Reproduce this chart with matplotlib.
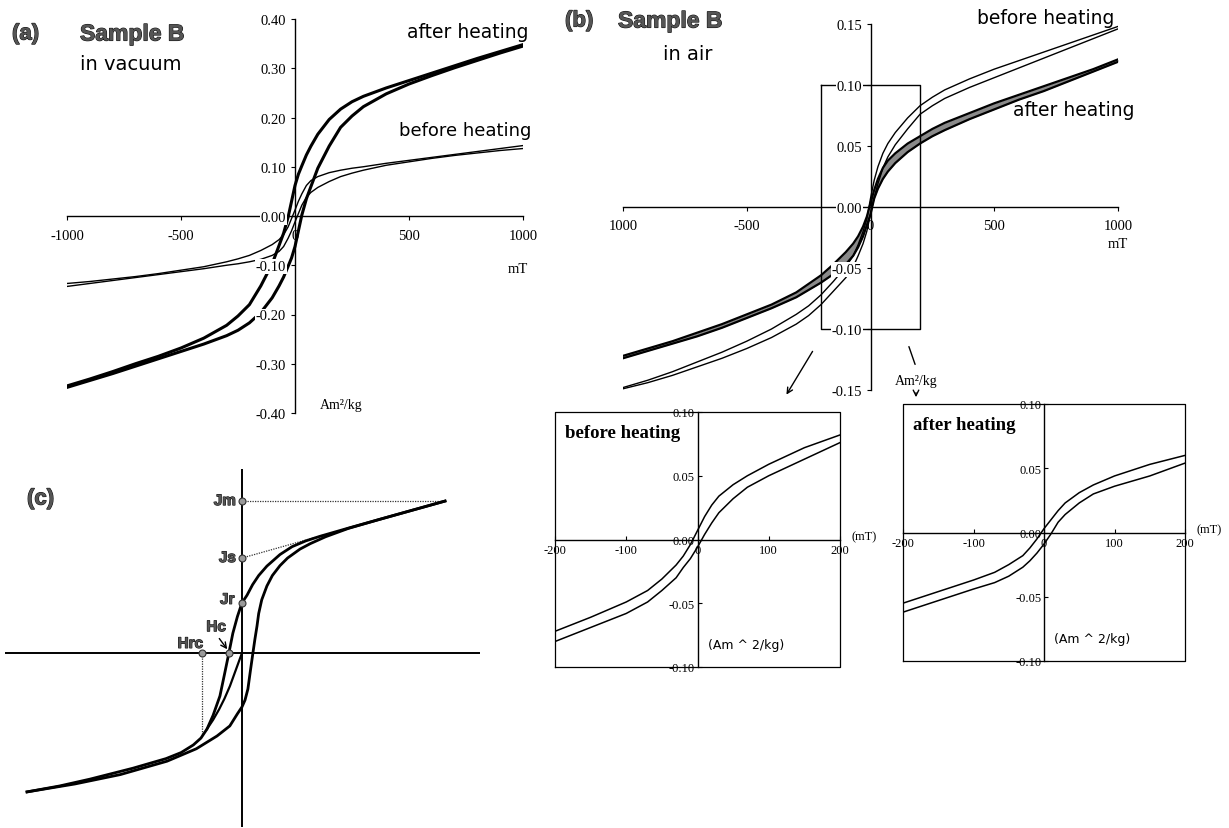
import matplotlib
matplotlib.use("Agg")
import matplotlib.pyplot as plt
import matplotlib.patheffects as pe

W, H = 1229, 829
SERIF = "Liberation Serif"
SANS = "DejaVu Sans"

# applied field (mT) for the full +/-1000 mT loops
FIELD = [-1000, -900, -800, -700, -600, -500, -400, -300, -250, -200, -150, -100, -70, -50, -30, -15,
         0, 15, 30, 50, 70, 100, 150, 200, 250, 300, 400, 500, 600, 700, 800, 900, 1000]

# (a) sample B heated in vacuum, magnetization in Am^2/kg
A_AFTER_DESC = [-0.345, -0.331, -0.316, -0.300, -0.285, -0.268, -0.248, -0.222, -0.203, -0.180, -0.142,
                -0.097, -0.060, -0.035, -0.002, 0.030, 0.062, 0.085, 0.102, 0.124, 0.142, 0.166, 0.196,
                0.217, 0.232, 0.243, 0.260, 0.275, 0.290, 0.305, 0.320, 0.334, 0.348]
A_AFTER_ASC = [-0.348, -0.334, -0.320, -0.305, -0.290, -0.275, -0.260, -0.243, -0.232, -0.217, -0.196,
               -0.166, -0.142, -0.124, -0.102, -0.085, -0.062, -0.030, 0.002, 0.035, 0.060, 0.097, 0.142,
               0.180, 0.203, 0.222, 0.248, 0.268, 0.285, 0.301, 0.316, 0.331, 0.345]
A_BEFORE_DESC = [-0.137, -0.133, -0.128, -0.123, -0.117, -0.110, -0.103, -0.093, -0.087, -0.080, -0.070,
                 -0.058, -0.048, -0.038, -0.022, -0.005, 0.012, 0.030, 0.045, 0.062, 0.072, 0.080, 0.088,
                 0.093, 0.097, 0.100, 0.107, 0.113, 0.119, 0.125, 0.131, 0.137, 0.143]
A_BEFORE_ASC = [-0.143, -0.137, -0.131, -0.125, -0.119, -0.113, -0.107, -0.100, -0.097, -0.093, -0.088,
                -0.080, -0.072, -0.062, -0.045, -0.030, -0.012, 0.005, 0.022, 0.038, 0.048, 0.058, 0.070,
                0.080, 0.087, 0.093, 0.103, 0.110, 0.117, 0.123, 0.128, 0.133, 0.137]

# (b) sample B heated in air
B_BEFORE_DESC = [-0.148, -0.142, -0.135, -0.127, -0.119, -0.110, -0.100, -0.088, -0.081, -0.072, -0.061,
                 -0.049, -0.040, -0.031, -0.020, -0.010, 0.007, 0.022, 0.033, 0.044, 0.052, 0.061, 0.073,
                 0.083, 0.090, 0.096, 0.105, 0.113, 0.120, 0.127, 0.134, 0.141, 0.148]
B_BEFORE_ASC = [-0.149, -0.144, -0.138, -0.131, -0.124, -0.116, -0.107, -0.096, -0.089, -0.080, -0.069,
                -0.058, -0.049, -0.040, -0.030, -0.020, -0.006, 0.008, 0.019, 0.032, 0.041, 0.051, 0.064,
                0.076, 0.083, 0.089, 0.098, 0.106, 0.114, 0.122, 0.130, 0.138, 0.146]
B_AFTER_DESC = [-0.122, -0.116, -0.110, -0.103, -0.096, -0.088, -0.080, -0.070, -0.063, -0.056, -0.047,
                -0.037, -0.030, -0.024, -0.016, -0.008, 0.003, 0.014, 0.023, 0.032, 0.038, 0.044, 0.052,
                0.058, 0.064, 0.069, 0.077, 0.085, 0.092, 0.099, 0.106, 0.113, 0.121]
B_AFTER_ASC = [-0.124, -0.118, -0.112, -0.106, -0.099, -0.091, -0.083, -0.074, -0.068, -0.062, -0.055,
               -0.047, -0.040, -0.033, -0.024, -0.015, -0.006, 0.007, 0.015, 0.023, 0.029, 0.036, 0.045,
               0.052, 0.058, 0.063, 0.072, 0.080, 0.088, 0.095, 0.103, 0.111, 0.119]
BOX_FIELD = 200
BOX_J = 0.10

# enlarged +/-200 mT loops
FIELD_IN = [-200, -150, -100, -70, -50, -30, -20, -10, 0, 10, 20, 30, 50, 70, 100, 150, 200]
IN_BEFORE_UP = [-0.072, -0.061, -0.049, -0.040, -0.031, -0.020, -0.013, -0.004, 0.007,
                0.018, 0.027, 0.034, 0.043, 0.050, 0.059, 0.072, 0.082]
IN_BEFORE_LOW = [-0.080, -0.069, -0.058, -0.049, -0.040, -0.030, -0.022, -0.015, -0.006,
                 0.004, 0.013, 0.021, 0.032, 0.041, 0.050, 0.063, 0.076]
IN_AFTER_UP = [-0.055, -0.046, -0.037, -0.031, -0.025, -0.018, -0.012, -0.005, 0.003,
               0.010, 0.017, 0.023, 0.031, 0.037, 0.044, 0.053, 0.060]
IN_AFTER_LOW = [-0.062, -0.053, -0.044, -0.039, -0.034, -0.027, -0.022, -0.016, -0.009,
                -0.001, 0.008, 0.014, 0.023, 0.030, 0.036, 0.044, 0.054]

# (c) schematic loop, arbitrary units
C_UP_H = [1.336, 1.1, 0.90, 0.70, 0.513, 0.42, 0.33, 0.25, 0.164, 0.11, 0.07, 0.033, 0.0, -0.03, -0.06,
          -0.086, -0.115, -0.145, -0.19, -0.23, -0.27, -0.32, -0.40, -0.50, -0.717, -1.0, -1.2, -1.414]
C_UP_J = [1.0, 0.934, 0.878, 0.822, 0.768, 0.738, 0.700, 0.648, 0.572, 0.51, 0.45, 0.38, 0.33, 0.24, 0.13,
          0.0, -0.14, -0.283, -0.41, -0.50, -0.56, -0.605, -0.655, -0.695, -0.758, -0.83, -0.875, -0.914]
C_LOW_H = [1.336, 1.1, 0.90, 0.70, 0.55, 0.45, 0.382, 0.30, 0.25, 0.20, 0.164, 0.13, 0.11, 0.099, 0.085,
           0.072, 0.055, 0.039, 0.02, 0.0, -0.03, -0.08, -0.164, -0.30, -0.493, -0.80, -1.1, -1.414]
C_LOW_J = [1.0, 0.934, 0.878, 0.820, 0.765, 0.72, 0.684, 0.625, 0.575, 0.51, 0.441, 0.35, 0.26, 0.178, 0.09,
           0.0, -0.12, -0.237, -0.31, -0.355, -0.40, -0.48, -0.546, -0.63, -0.712, -0.80, -0.862, -0.914]
C_MID_H = [0.0, -0.04, -0.079, -0.115, -0.15, -0.19, -0.23]
C_MID_J = [0.0, -0.11, -0.217, -0.30, -0.37, -0.44, -0.50]
JM, JS, JR = 1.0, 0.625, 0.33
HC, HRC = -0.086, -0.263
HRC_J = -0.54
JS_TANGENT_H = 0.55
JS_TANGENT_J = 0.78

plt.rcParams["font.family"] = SERIF
fig = plt.figure(figsize=(W / 100, H / 100), dpi=100)


def place(x0, y0, x1, y1):
    """Axes from a pixel box measured from the top-left corner."""
    return fig.add_axes([x0 / W, 1 - y1 / H, (x1 - x0) / W, (y1 - y0) / H])


def label(x, y, s, **kw):
    kw.setdefault("ha", "center")
    kw.setdefault("va", "center")
    fig.text(x / W, 1 - y / H, s, **kw)


def heading(x, y, s, size):
    label(x, y, s, fontsize=size, family="Liberation Sans", fontweight="bold", ha="left",
          color="#555555", path_effects=[pe.withStroke(linewidth=0.8, foreground="#111111")])


def cross_axes(ax, xlim, ylim, xticks, xlabels, yticks, fs, white, tdir, tlen, xpad, ypad):
    ax.set_xlim(*xlim)
    ax.set_ylim(*ylim)
    ax.patch.set_visible(False)
    ax.set_axisbelow(False)
    for side in ("top", "right"):
        ax.spines[side].set_visible(False)
    for side in ("left", "bottom"):
        ax.spines[side].set_position(("data", 0))
        ax.spines[side].set_linewidth(1.0)
    ax.set_xticks(xticks)
    ax.set_xticklabels(xlabels, fontsize=fs, family=SERIF)
    ax.set_yticks(yticks)
    bbox = dict(fc="white", ec="none", pad=0.6) if white else None
    ax.set_yticklabels(["{:.2f}".format(v) for v in yticks], fontsize=fs, family=SERIF, bbox=bbox)
    ax.tick_params(axis="x", direction=tdir, length=tlen, width=0.8, pad=xpad)
    ax.tick_params(axis="y", direction=tdir, length=tlen, width=0.8, pad=ypad)


# ---------------- (a) in vacuum ----------------
ax_a = place(67, 20, 523, 414)
cross_axes(ax_a, (-1000, 1000), (-0.4, 0.4), [-1000, -500, 0, 500, 1000],
           ["-1000", "-500", "0", "500", "1000"],
           [0.4, 0.3, 0.2, 0.1, 0.0, -0.1, -0.2, -0.3, -0.4], 10.5, True, "out", 3, 6, 3.5)
ax_a.plot(FIELD, A_BEFORE_DESC, color="black", lw=1.0)
ax_a.plot(FIELD, A_BEFORE_ASC, color="black", lw=1.0)
ax_a.plot(FIELD, A_AFTER_DESC, color="black", lw=2.2)
ax_a.plot(FIELD, A_AFTER_ASC, color="black", lw=2.2)

heading(12, 35, "(a)", 16)
heading(80, 35, "Sample B", 16.5)
label(80, 64, "in vacuum", fontsize=14, family=SANS, ha="left")
label(468, 33, "after heating", fontsize=13.5, family=SANS)
label(465, 131, "before heating", fontsize=13, family=SANS)
label(518, 270, "mT", fontsize=10.5)
label(320, 406, "Am²/kg", fontsize=10, ha="left")

# ---------------- (b) in air ----------------
ax_b = place(623, 25, 1118, 391)
cross_axes(ax_b, (-1000, 1000), (-0.15, 0.15), [-1000, -500, 0, 500, 1000],
           ["1000", "-500", "0", "500", "1000"],
           [0.15, 0.10, 0.05, 0.0, -0.05, -0.10, -0.15], 10.5, True, "out", 3, 6, 3)
ax_b.plot(FIELD, B_BEFORE_DESC, color="black", lw=1.0)
ax_b.plot(FIELD, B_BEFORE_ASC, color="black", lw=1.0)
ax_b.fill_between(FIELD, B_AFTER_ASC, B_AFTER_DESC, color="#8a8a8a", lw=0)
ax_b.plot(FIELD, B_AFTER_DESC, color="black", lw=1.6)
ax_b.plot(FIELD, B_AFTER_ASC, color="black", lw=1.6)
ax_b.plot([-BOX_FIELD, BOX_FIELD, BOX_FIELD, -BOX_FIELD, -BOX_FIELD],
          [BOX_J, BOX_J, -BOX_J, -BOX_J, BOX_J], color="black", lw=1.0)

heading(565, 22, "(b)", 16)
heading(618, 22, "Sample B", 16.5)
label(663, 54, "in air", fontsize=14, family=SANS, ha="left")
label(1046, 18, "before heating", fontsize=13.5, family=SANS)
label(1074, 111, "after heating", fontsize=13.5, family=SANS)
label(1118, 244, "mT", fontsize=10.5)
label(916, 382, "Am²/kg", fontsize=10)

# leader arrows from the framed region to the enlarged loops
fig_px = dict(xycoords="figure pixels", textcoords="figure pixels")
ax_b.annotate("", xy=(785, H - 398), xytext=(814, H - 350),
              arrowprops=dict(arrowstyle="->", lw=1.0, color="black"), **fig_px)
ax_b.annotate("", xy=(916, H - 368), xytext=(908, H - 345),
              arrowprops=dict(arrowstyle="-", lw=1.0, color="black"), **fig_px)
ax_b.annotate("", xy=(916, H - 401), xytext=(916, H - 391),
              arrowprops=dict(arrowstyle="->", lw=1.0, color="black"), **fig_px)


def inset(box, up, low, title, title_x, unit_x, mt_x):
    x0, y0, x1, y1 = box
    ax = place(x0, y0, x1, y1)
    cross_axes(ax, (-200, 200), (-0.1, 0.1), [-200, -100, 0, 100, 200],
               ["-200", "-100", "0", "100", "200"],
               [0.10, 0.05, 0.0, -0.05, -0.10], 9, False, "in", 3, 3, 2)
    ax.plot([0, 1, 1, 0, 0], [0, 0, 1, 1, 0], transform=ax.transAxes, color="black",
            lw=0.9, clip_on=False)
    ax.plot(FIELD_IN, up, color="black", lw=1.1)
    ax.plot(FIELD_IN, low, color="black", lw=1.1)
    label(title_x, y0 + 20, title, fontsize=13.5, fontweight="bold", ha="left")
    label(unit_x, y1 - 23, "(Am ^ 2/kg)", fontsize=9, family=SANS)
    label(mt_x, (y0 + y1) / 2 - 3, "(mT)", fontsize=9)
    return ax


inset((555, 413, 840, 668), IN_BEFORE_UP, IN_BEFORE_LOW, "before heating", 565, 746, 864)
inset((903, 405, 1185, 662), IN_AFTER_UP, IN_AFTER_LOW, "after heating", 913, 1092, 1209)

# ---------------- (c) schematic ----------------
ax_c = place(5, 470, 480, 828)
ax_c.set_xlim(-1.559, 1.566)
ax_c.set_ylim(-1.145, 1.211)
ax_c.axis("off")
ax_c.axhline(0, color="black", lw=1.4)
ax_c.axvline(0, color="black", lw=1.4)
ax_c.plot([0, C_UP_H[0]], [JM, JM], color="#333333", lw=0.9, ls=(0, (1, 1)))
ax_c.plot([0, JS_TANGENT_H], [JS, JS_TANGENT_J], color="#333333", lw=0.9, ls=(0, (1, 1)))
ax_c.plot([HRC, HRC], [0, HRC_J], color="#333333", lw=0.9, ls=(0, (1, 1)))
ax_c.plot(C_UP_H, C_UP_J, color="black", lw=2.0)
ax_c.plot(C_LOW_H, C_LOW_J, color="black", lw=2.0)
ax_c.plot(C_MID_H, C_MID_J, color="black", lw=1.6)
ax_c.plot([0, 0, 0, HC, HRC], [JM, JS, JR, 0, 0], ls="none", marker="o", ms=5,
          mfc="#9a9a9a", mec="#333333", mew=0.8, zorder=4)

mark = dict(fontsize=11, family="Liberation Sans", fontweight="bold", color="#555555",
            path_effects=[pe.withStroke(linewidth=0.8, foreground="#111111")], va="center")
ax_c.text(-0.04, JM, "Jm", ha="right", **mark)
ax_c.text(-0.04, JS, "Js", ha="right", **mark)
ax_c.text(-0.05, JR + 0.02, "Jr", ha="right", **mark)
ax_c.text(-0.17, 0.17, "Hc", ha="center", **mark)
ax_c.text(-0.34, 0.06, "Hrc", ha="center", **mark)
ax_c.annotate("", xy=(HC, 0.01), xytext=(-0.16, 0.11),
              arrowprops=dict(arrowstyle="->", lw=1.0, color="black"))
heading(27, 500, "(c)", 16)

fig.savefig("out.png", dpi=100)
